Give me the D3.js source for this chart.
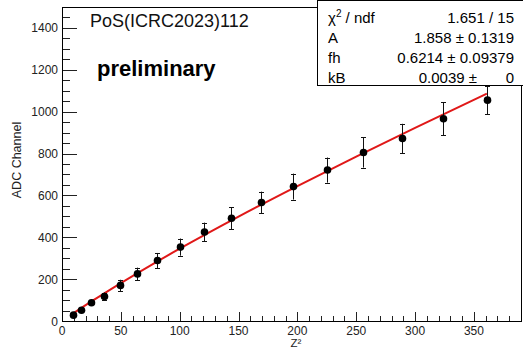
<!DOCTYPE html>
<html>
<head>
<meta charset="utf-8">
<script src="https://cdn.jsdelivr.net/npm/d3@7/dist/d3.min.js"></script>
<style>
  html, body { margin: 0; padding: 0; background: #fff; }
  svg { display: block; }
  text { font-family: "Liberation Sans", Arial, Helvetica, sans-serif; }
</style>
</head>
<body>
<svg id="chart" width="523" height="350"></svg>
<script>
// Measured ADC response vs. charge squared (Z = 3 ... 19)
const zSquared = [9, 16, 25, 36, 49, 64, 81, 100, 121, 144, 169, 196, 225, 256, 289, 324, 361];
const adcMean  = [28, 51, 87, 117, 170, 225, 289, 353, 425, 491, 566, 642, 721, 805, 872, 966, 1055];
const adcError = [3, 5, 7, 19, 27, 30, 36, 41, 45, 53, 52, 62, 60, 72, 70, 78, 67];

// Fitted response curve (A, fh, kB below), sampled along Z^2
const fitX = [9, 25, 50, 75, 100, 150, 200, 250, 300, 361];
const fitY = [34.3, 93.4, 181.3, 265.0, 345.4, 498.7, 644.7, 785.6, 922.7, 1086.3];

// Axis ticks
const xTicks = [0, 50, 100, 150, 200, 250, 300, 350];
const yTicks = [0, 200, 400, 600, 800, 1000, 1200, 1400];

// Fit summary rows
const statLabels = ["χ2 / ndf", "A", "fh", "kB"];
const statValues = ["1.651 / 15", "1.858 ± 0.1319", "0.6214 ± 0.09379", "0.0039 ±"];
const statErrorsTrail = ["", "", "", "0"];

(function draw() {
  const svg = d3.select("#chart");
  const pLeft = 62, pRight = 521, pTop = 7, pBottom = 321;

  const x = d3.scaleLinear().domain([0, 390]).range([pLeft, pRight]);
  const y = d3.scaleLinear().domain([0, 1500]).range([pBottom, pTop]);

  // Minor ticks
  const xMinor = d3.range(0, 391, 10).filter(v => v % 50 !== 0);
  const yMinor = d3.range(0, 1501, 50).filter(v => v % 200 !== 0);

  const g = svg.append("g");

  // x minor / major ticks (pointing into the frame)
  g.append("g").selectAll("line").data(xMinor).join("line")
    .attr("x1", d => Math.round(x(d)) + 0.5).attr("x2", d => Math.round(x(d)) + 0.5)
    .attr("y1", pBottom).attr("y2", pBottom - 5)
    .attr("stroke", "#222").attr("stroke-width", 1);
  g.append("g").selectAll("line").data(xTicks).join("line")
    .attr("x1", d => Math.round(x(d)) + 0.5).attr("x2", d => Math.round(x(d)) + 0.5)
    .attr("y1", pBottom).attr("y2", pBottom - 9)
    .attr("stroke", "#222").attr("stroke-width", 1);

  // y minor / major ticks
  g.append("g").selectAll("line").data(yMinor).join("line")
    .attr("y1", d => Math.round(y(d)) + 0.5).attr("y2", d => Math.round(y(d)) + 0.5)
    .attr("x1", pLeft).attr("x2", pLeft + 8)
    .attr("stroke", "#222").attr("stroke-width", 1);
  g.append("g").selectAll("line").data(yTicks).join("line")
    .attr("y1", d => Math.round(y(d)) + 0.5).attr("y2", d => Math.round(y(d)) + 0.5)
    .attr("x1", pLeft).attr("x2", pLeft + 15)
    .attr("stroke", "#222").attr("stroke-width", 1);

  // Frame
  g.append("rect")
    .attr("x", pLeft + 0.5).attr("y", pTop + 0.5)
    .attr("width", pRight - pLeft).attr("height", pBottom - pTop)
    .attr("fill", "none").attr("stroke", "#000").attr("stroke-width", 1);

  // Tick labels
  g.append("g").selectAll("text").data(xTicks).join("text")
    .attr("x", d => x(d)).attr("y", 334.5)
    .attr("text-anchor", "middle").attr("font-size", 12).attr("fill", "#222")
    .text(d => d);
  g.append("g").selectAll("text").data(yTicks).join("text")
    .attr("x", 58).attr("y", d => y(d) + 4.5)
    .attr("text-anchor", "end").attr("font-size", 12).attr("fill", "#222")
    .text(d => d);

  // Axis titles
  g.append("text")
    .attr("x", 296).attr("y", 347.3)
    .attr("text-anchor", "middle").attr("font-size", 11.5).attr("fill", "#222")
    .text("Z²");

  g.append("text")
    .attr("transform", "translate(21,160) rotate(-90)")
    .attr("text-anchor", "middle").attr("font-size", 12.5).attr("fill", "#222")
    .text("ADC Channel");

  // Fit curve
  const fitLine = d3.line().x(d => x(d[0])).y(d => y(d[1])).curve(d3.curveMonotoneX);
  g.append("path")
    .datum(d3.zip(fitX, fitY))
    .attr("d", fitLine)
    .attr("fill", "none").attr("stroke", "#e01818").attr("stroke-width", 2);

  // Error bars and markers
  const pts = d3.zip(zSquared, adcMean, adcError);
  const eb = g.append("g").attr("stroke", "#111").attr("stroke-width", 1);
  const px = d => Math.round(x(d[0]));
  eb.selectAll("line.v").data(pts).join("line").attr("class", "v")
    .attr("x1", d => px(d) + 0.5).attr("x2", d => px(d) + 0.5)
    .attr("y1", d => y(d[1] - d[2])).attr("y2", d => y(d[1] + d[2]));
  eb.selectAll("line.t").data(pts).join("line").attr("class", "t")
    .attr("x1", d => px(d) - 2).attr("x2", d => px(d) + 3)
    .attr("y1", d => Math.round(y(d[1] + d[2])) + 0.5).attr("y2", d => Math.round(y(d[1] + d[2])) + 0.5);
  eb.selectAll("line.b").data(pts).join("line").attr("class", "b")
    .attr("x1", d => px(d) - 2).attr("x2", d => px(d) + 3)
    .attr("y1", d => Math.round(y(d[1] - d[2])) + 0.5).attr("y2", d => Math.round(y(d[1] - d[2])) + 0.5);

  g.append("g").selectAll("circle").data(pts).join("circle")
    .attr("cx", d => px(d) + 0.5).attr("cy", d => y(d[1]))
    .attr("r", 3.8).attr("fill", "#000");

  // Annotations
  g.append("text")
    .attr("x", 90).attr("y", 27)
    .attr("font-family", "'Open Sans', 'Noto Sans', sans-serif")
    .attr("font-size", 18).attr("fill", "#111")
    .text("PoS(ICRC2023)112");
  g.append("text")
    .attr("x", 97).attr("y", 76)
    .attr("font-size", 22).attr("font-weight", "bold").attr("fill", "#000")
    .text("preliminary");

  // Fit statistics box
  const box = g.append("g");
  box.append("rect")
    .attr("x", 317.5).attr("y", 0.5).attr("width", 210).attr("height", 85)
    .attr("fill", "#fff").attr("stroke", "#000").attr("stroke-width", 1);
  const rowY = [23, 43, 63, 83];
  statLabels.forEach((lab, i) => {
    const t = box.append("text").attr("x", 328).attr("y", rowY[i])
      .attr("font-size", 15).attr("fill", "#000");
    if (i === 0) {
      t.append("tspan").text("χ");
      t.append("tspan").attr("font-size", 10).attr("dy", -6).text("2");
      t.append("tspan").attr("dy", 6).text(" / ndf");
    } else {
      t.text(lab);
    }
    box.append("text").attr("x", i === 3 ? 477 : 514).attr("y", rowY[i])
      .attr("text-anchor", "end").attr("font-size", 15).attr("fill", "#000")
      .text(statValues[i]);
    if (statErrorsTrail[i]) {
      box.append("text").attr("x", 514).attr("y", rowY[i])
        .attr("text-anchor", "end").attr("font-size", 15).attr("fill", "#000")
        .text(statErrorsTrail[i]);
    }
  });
})();
</script>
</body>
</html>
